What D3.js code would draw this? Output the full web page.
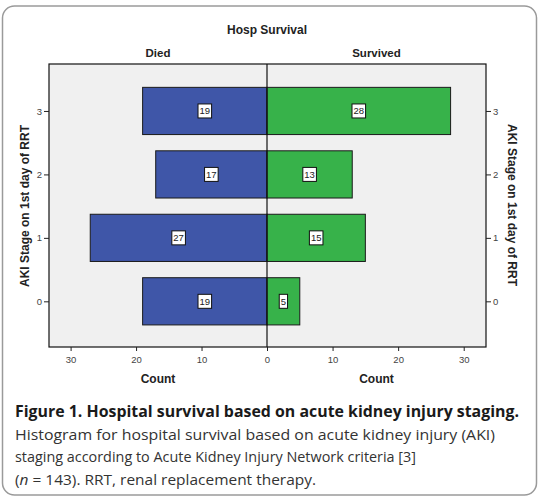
<!DOCTYPE html>
<html><head><meta charset="utf-8">
<script src="https://cdn.jsdelivr.net/npm/d3@7"></script>
<style>html,body{margin:0;padding:0;background:#fff;}svg{display:block;}</style>
</head><body>
<script>
const stages = [0, 1, 2, 3];
const died = [19, 27, 17, 19];
const survived = [5, 15, 13, 28];
const xTicks = [0, 10, 20, 30];
const panelNames = ["Died", "Survived"];
const captionLines = [
  "Histogram for hospital survival based on acute kidney injury (AKI)",
  "staging according to Acute Kidney Injury Network criteria [3]",
  "(n = 143). RRT, renal replacement therapy."
];

const W = 539, H = 503;
const svg = d3.select("body").append("svg").attr("width", W).attr("height", H);
const F = "Liberation Sans, Arial, sans-serif";

// outer rounded border
svg.append("rect").attr("x", 2.5).attr("y", 6).attr("width", 534).attr("height", 489)
  .attr("rx", 12).attr("fill", "#fff").attr("stroke", "#9a9a9a").attr("stroke-width", 1.5);

const L = 49, R = 486, C = 267, T = 64, B = 347;
const xL = d3.scaleLinear().domain([0, 33.3]).range([C, L]);
const xR = d3.scaleLinear().domain([0, 33.4]).range([C, R]);
const y = d3.scaleLinear().domain([-0.72, 3.74]).range([B, T]);
const half = 0.372;

svg.append("rect").attr("x", L).attr("y", T).attr("width", R - L).attr("height", B - T)
  .attr("fill", "#f0f0f0");

// titles
svg.append("text").attr("x", C).attr("y", 33.5).attr("text-anchor", "middle")
  .attr("font-family", F).attr("font-weight", "bold").attr("font-size", 12).attr("fill", "#222")
  .text("Hosp Survival");
svg.append("text").attr("x", (L + C) / 2).attr("y", 56.5).attr("text-anchor", "middle")
  .attr("font-family", F).attr("font-weight", "bold").attr("font-size", 11.5).attr("fill", "#222")
  .text(panelNames[0]);
svg.append("text").attr("x", (C + R) / 2).attr("y", 56.5).attr("text-anchor", "middle")
  .attr("font-family", F).attr("font-weight", "bold").attr("font-size", 11.5).attr("fill", "#222")
  .text(panelNames[1]);

// bars
const data = stages.map((s, i) => ({ s, d: died[i], v: survived[i] }));
svg.selectAll(".bd").data(data).enter().append("rect")
  .attr("x", d => xL(d.d)).attr("y", d => y(d.s + half))
  .attr("width", d => xL(0) - xL(d.d)).attr("height", d => y(d.s - half) - y(d.s + half))
  .attr("fill", "#3f56a8").attr("stroke", "#1a1a1a").attr("stroke-width", 1);
svg.selectAll(".bs").data(data).enter().append("rect")
  .attr("x", d => xR(0)).attr("y", d => y(d.s + half))
  .attr("width", d => xR(d.v) - xR(0)).attr("height", d => y(d.s - half) - y(d.s + half))
  .attr("fill", "#37b24a").attr("stroke", "#1a1a1a").attr("stroke-width", 1);

// value labels
function label(x, yy, txt) {
  const g = svg.append("g");
  const t = g.append("text").attr("x", x).attr("y", yy + 3.3).attr("text-anchor", "middle")
    .attr("font-family", F).attr("font-size", 9.5).attr("fill", "#222").text(txt);
  const bb = t.node().getBBox();
  g.insert("rect", "text").attr("x", bb.x - 1.5).attr("y", yy - 7)
    .attr("width", bb.width + 3).attr("height", 14)
    .attr("fill", "#fff").attr("stroke", "#111").attr("stroke-width", 1);
}
data.forEach(d => {
  label(xL(d.d / 2), y(d.s), String(d.d));
  label(xR(d.v / 2), y(d.s), String(d.v));
});

// frame + center line
svg.append("rect").attr("x", L).attr("y", T).attr("width", R - L).attr("height", B - T)
  .attr("fill", "none").attr("stroke", "#111").attr("stroke-width", 1.2);
svg.append("line").attr("x1", C).attr("x2", C).attr("y1", T).attr("y2", B)
  .attr("stroke", "#111").attr("stroke-width", 1.2);

// axes
function styleAxis(g) {
  g.select(".domain").remove();
  g.selectAll(".tick line").attr("stroke", "#222");
  g.selectAll(".tick text").attr("font-family", F).attr("font-size", 9.5).attr("fill", "#444");
}
const axL = svg.append("g").attr("transform", `translate(0,${B})`)
  .call(d3.axisBottom(xL).tickValues(xTicks.slice(1)).tickSize(4).tickPadding(5).tickFormat(d3.format("d")));
styleAxis(axL);
const axR = svg.append("g").attr("transform", `translate(0,${B})`)
  .call(d3.axisBottom(xR).tickValues(xTicks).tickSize(4).tickPadding(5).tickFormat(d3.format("d")));
styleAxis(axR);
const ayL = svg.append("g").attr("transform", `translate(${L},0)`)
  .call(d3.axisLeft(y).tickValues(stages).tickSize(5).tickPadding(2).tickFormat(d3.format("d")));
styleAxis(ayL);
const ayR = svg.append("g").attr("transform", `translate(${R},0)`)
  .call(d3.axisRight(y).tickValues(stages).tickSize(5).tickPadding(2).tickFormat(d3.format("d")));
styleAxis(ayR);

// axis titles
svg.append("text").attr("x", (L + C) / 2).attr("y", 383).attr("text-anchor", "middle")
  .attr("font-family", F).attr("font-weight", "bold").attr("font-size", 12).attr("fill", "#222").text("Count");
svg.append("text").attr("x", (C + R) / 2).attr("y", 383).attr("text-anchor", "middle")
  .attr("font-family", F).attr("font-weight", "bold").attr("font-size", 12).attr("fill", "#222").text("Count");
svg.append("text").attr("transform", `translate(29,206) rotate(-90)`).attr("text-anchor", "middle")
  .attr("font-family", F).attr("font-weight", "bold").attr("font-size", 12).attr("fill", "#222")
  .text("AKI Stage on 1st day of RRT");
svg.append("text").attr("transform", `translate(508,205) rotate(90)`).attr("text-anchor", "middle")
  .attr("font-family", F).attr("font-weight", "bold").attr("font-size", 12).attr("fill", "#222")
  .text("AKI Stage on 1st day of RRT");

// caption
const CF = "Open Sans, Noto Sans, sans-serif";
svg.append("text").attr("x", 15).attr("y", 416.5).attr("font-family", CF).attr("font-weight", "bold")
  .attr("font-size", 16).attr("fill", "#1a1a1a")
  .attr("textLength", 504).attr("lengthAdjust", "spacingAndGlyphs")
  .text("Figure 1. Hospital survival based on acute kidney injury staging.");
const lens = [480, 401, 301];
const bases = [439.5, 462, 484.5];
captionLines.forEach((ln, i) => {
  const t = svg.append("text").attr("x", 15).attr("y", bases[i]).attr("font-family", CF)
    .attr("font-size", 15).attr("fill", "#333")
    .attr("textLength", lens[i]).attr("lengthAdjust", "spacingAndGlyphs");
  if (ln.startsWith("(n")) {
    t.append("tspan").text("(");
    t.append("tspan").attr("font-style", "italic").text("n");
    t.append("tspan").text(ln.slice(2));
  } else {
    t.text(ln);
  }
});
</script>
</body></html>
